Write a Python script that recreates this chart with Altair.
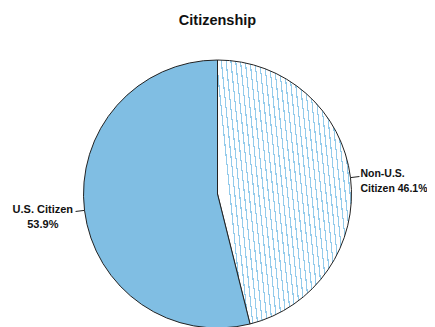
import altair as alt
import pandas as pd

# ---- data ----
categories = ["Non-U.S. Citizen", "U.S. Citizen"]
values = [46.1, 53.9]
labels = ["Non-U.S.\nCitizen 46.1%", "U.S. Citizen\n53.9%"]
slice_order = [0, 1]

df = pd.DataFrame({"category": categories, "value": values,
                   "label": labels, "order": slice_order})

FONT = "Liberation Sans"
SOLID = "#80bee3"
HATCH = "#93cbeb"

# hatch pattern imitated with a striped linear gradient
N = 29
stops = []
for i in range(N):
    a = i / N
    m = (i + 0.76) / N
    b = (i + 1) / N
    stops += [{"offset": a, "color": "#ffffff"}, {"offset": m, "color": "#ffffff"},
              {"offset": m, "color": HATCH}, {"offset": b, "color": HATCH}]
hatch = {"gradient": "linear", "x1": 0, "y1": 0.2, "x2": 1, "y2": 0, "stops": stops}

base = alt.Chart(df)
theta = alt.Theta("value:Q", stack=True)
order = alt.Order("order:O", sort="ascending")

arc = base.mark_arc(radius=134, stroke="#222222", strokeWidth=1).encode(
    theta=theta, order=order,
    fill=alt.condition(alt.datum.category == "U.S. Citizen",
                       alt.value(SOLID), alt.value(hatch)),
)

leader = base.transform_joinaggregate(total="sum(value)").transform_window(
    cum="sum(value)", sort=[alt.SortField("order")], frame=[None, 0]
).transform_calculate(
    mid="2*PI*(datum.cum - datum.value/2)/datum.total",
    lx1="209.5+134*sin(datum.mid)", ly1="134-134*cos(datum.mid)",
    lx2="209.5+143*sin(datum.mid)", ly2="134-143*cos(datum.mid)",
).mark_rule(color="#222222", strokeWidth=1).encode(
    x=alt.X("lx1:Q", scale=None, axis=None), y=alt.Y("ly1:Q", scale=None, axis=None),
    x2="lx2:Q", y2="ly2:Q",
)

text_right = base.mark_text(radius=144, align="left", baseline="alphabetic",
                            font=FONT, fontSize=10.5, fontWeight="bold",
                            lineHeight=15, lineBreak="\n", dy=1, color="#111").encode(
    theta=theta, order=order,
    text=alt.condition(alt.datum.category == "Non-U.S. Citizen",
                       alt.Text("label:N"), alt.value("")),
)

text_left = base.mark_text(radius=176, align="center", baseline="alphabetic",
                           font=FONT, fontSize=11, fontWeight="bold",
                           lineHeight=15, lineBreak="\n", dy=-3, color="#111").encode(
    theta=theta, order=order,
    text=alt.condition(alt.datum.category == "U.S. Citizen",
                       alt.Text("label:N"), alt.value("")),
)

chart = alt.layer(arc, leader, text_right, text_left).properties(
    width=419, height=268,
    title=alt.TitleParams("Citizenship", font=FONT, fontSize=14.5,
                          fontWeight="bold", color="#111", offset=30),
    autosize=alt.AutoSizeParams(type="none"),
    padding={"top": 52, "left": 0, "right": 0, "bottom": 0},
).configure_view(stroke=None)

chart.save("out.html", embed_options={"renderer": "svg", "actions": False})
